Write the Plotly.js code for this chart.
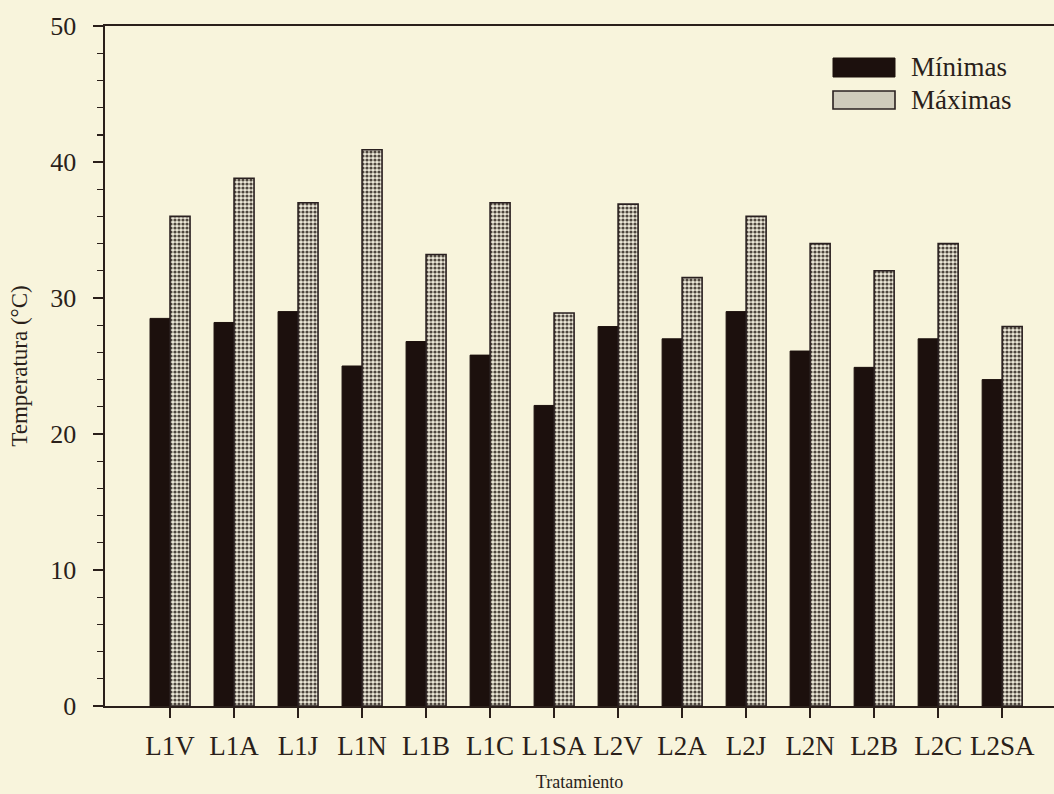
<!DOCTYPE html>
<html>
<head>
<meta charset="utf-8">
<script src="https://cdn.plot.ly/plotly-3.0.1.min.js"></script>
<style>
  html, body { margin: 0; padding: 0; background: #f8f4dc; }
  #chart { width: 1054px; height: 794px; }
</style>
</head>
<body>
<div id="chart"></div>
<script>
const categories = ["L1V","L1A","L1J","L1N","L1B","L1C","L1SA","L2V","L2A","L2J","L2N","L2B","L2C","L2SA"];
const minimas = [28.5, 28.2, 29.0, 25.0, 26.8, 25.8, 22.1, 27.9, 27.0, 29.0, 26.1, 24.9, 27.0, 24.0];
const maximas = [36.0, 38.8, 37.0, 40.9, 33.2, 37.0, 28.9, 36.9, 31.5, 36.0, 34.0, 32.0, 34.0, 27.9];
const seriesNames = ["Mínimas", "Máximas"];

const ink = "#2a1f1a";
const paperBg = "#f8f4dc";
const serif = "Liberation Serif";

const traces = [
  {
    type: "bar", name: seriesNames[0], x: categories, y: minimas,
    marker: { color: "#1c100d", line: { color: "#1c100d", width: 1 } },
    showlegend: false, hoverinfo: "x+y"
  },
  {
    type: "bar", name: seriesNames[1], x: categories, y: maximas,
    marker: {
      color: "#ebe7d6",
      line: { color: "#2a2020", width: 1.6 },
      pattern: { shape: ".", bgcolor: "#ece8d8", fgcolor: "#4e463e", size: 4, solidity: 0.5 }
    },
    showlegend: false, hoverinfo: "x+y"
  }
];

// legend drawn manually (large swatches like the original)
const L = 105, W = 949, B = 706, H = 680;
const px = v => (v - L) / W;
const py = v => (B - v) / H;

const layout = {
  width: 1054, height: 794,
  paper_bgcolor: paperBg, plot_bgcolor: paperBg,
  margin: { l: 105, r: 0, t: 26, b: 88 },
  barmode: "group", bargap: 0.375, bargroupgap: 0,
  font: { family: serif, color: ink },
  showlegend: false,
  xaxis: {
    type: "category",
    range: [-1.016, 13.81],
    showline: true, linecolor: ink, linewidth: 1.6, mirror: true,
    ticks: "outside", ticklen: 10, tickwidth: 1.4, tickcolor: ink,
    tickfont: { family: serif, size: 27, color: ink },
    ticklabelstandoff: 5,
    showgrid: false, zeroline: false, automargin: false,
    title: { text: "Tratamiento", font: { family: serif, size: 18, color: ink }, standoff: 15 }
  },
  yaxis: {
    range: [0, 50], dtick: 10, tick0: 0,
    showline: true, linecolor: ink, linewidth: 1.6,
    ticks: "outside", ticklen: 10, tickwidth: 1.4, tickcolor: ink,
    minor: { dtick: 2, ticks: "outside", ticklen: 6, tickwidth: 1.4, tickcolor: ink, showgrid: false },
    tickfont: { family: serif, size: 26, color: ink },
    ticklabelstandoff: 12,
    showgrid: false, zeroline: false, automargin: false,
    title: { text: "Temperatura (°C)", font: { family: serif, size: 23, color: ink }, standoff: 16 }
  },
  shapes: [
    { type: "rect", xref: "paper", yref: "paper", x0: px(833), x1: px(895), y0: py(77), y1: py(58),
      fillcolor: "#1c100d", line: { color: "#1c100d", width: 1 } },
    { type: "rect", xref: "paper", yref: "paper", x0: px(833), x1: px(895), y0: py(109), y1: py(91),
      fillcolor: "#cfcbbb", line: { color: "#2a2020", width: 1.6 } }
  ],
  annotations: [
    { xref: "paper", yref: "paper", x: px(909), y: py(67), xanchor: "left", yanchor: "middle",
      text: seriesNames[0], showarrow: false, font: { family: serif, size: 27, color: ink } },
    { xref: "paper", yref: "paper", x: px(909), y: py(100), xanchor: "left", yanchor: "middle",
      text: seriesNames[1], showarrow: false, font: { family: serif, size: 27, color: ink } }
  ]
};

Plotly.newPlot("chart", traces, layout, { displayModeBar: false, staticPlot: true });
</script>
</body>
</html>
